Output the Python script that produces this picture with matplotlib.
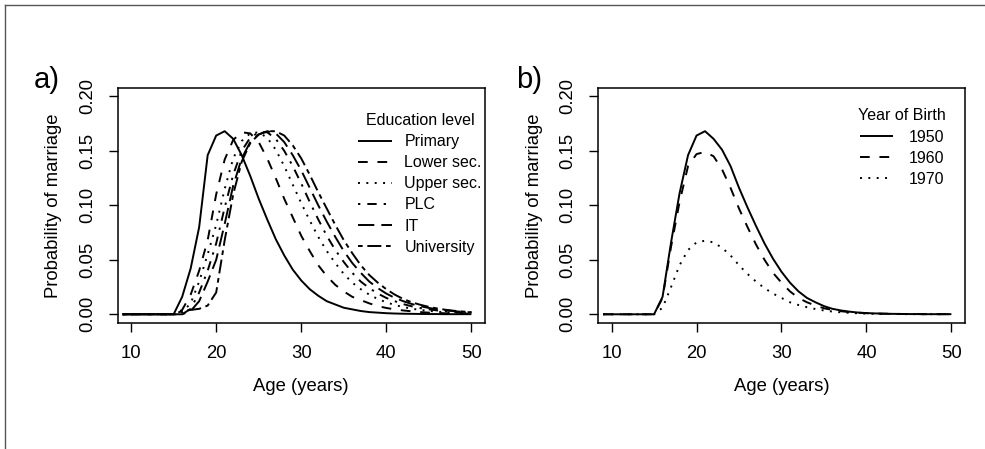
import matplotlib
matplotlib.use('Agg')
import matplotlib.pyplot as plt
from matplotlib.lines import Line2D

# Datos
ages = list(range(9, 51))

primary = [0, 0, 0, 0, 0, 0, 0,
           0.016, 0.042, 0.080, 0.146, 0.164, 0.168, 0.161, 0.146, 0.127, 0.106, 0.087, 0.069, 0.054,
           0.041, 0.031, 0.023, 0.017, 0.012, 0.009, 0.006, 0.0045, 0.003, 0.002, 0.0015, 0.001,
           0.0007, 0.0005, 0.0004, 0.0003, 0.0002, 0.0002, 0.0001, 0.0001, 0.0001, 0.0001]
lower_sec = [0, 0, 0, 0, 0, 0, 0,
             0.004, 0.018, 0.040, 0.068, 0.110, 0.142, 0.160, 0.167, 0.166, 0.158, 0.143, 0.125, 0.106,
             0.089, 0.072, 0.058, 0.045, 0.035, 0.027, 0.021, 0.016, 0.013, 0.010, 0.0075, 0.0058,
             0.0045, 0.0035, 0.0027, 0.002, 0.0015, 0.0012, 0.0009, 0.0007, 0.0005, 0.0004]
upper_sec = [0, 0, 0, 0, 0, 0, 0,
             0.002, 0.010, 0.030, 0.055, 0.082, 0.115, 0.143, 0.159, 0.166, 0.167, 0.162, 0.151, 0.136,
             0.119, 0.102, 0.086, 0.071, 0.058, 0.047, 0.037, 0.029, 0.023, 0.018, 0.014, 0.011,
             0.0085, 0.0066, 0.0051, 0.004, 0.0031, 0.0024, 0.0019, 0.0015, 0.0012, 0.001]
plc = [0, 0, 0, 0, 0, 0, 0, 0,
       0.005, 0.020, 0.040, 0.065, 0.098, 0.128, 0.150, 0.162, 0.167, 0.167, 0.161, 0.150,
       0.136, 0.120, 0.103, 0.087, 0.072, 0.059, 0.048, 0.038, 0.030, 0.024, 0.019, 0.015,
       0.012, 0.0093, 0.0073, 0.0057, 0.0045, 0.0035, 0.0028, 0.0022, 0.0017, 0.0014]
it = [0, 0, 0, 0, 0, 0, 0, 0,
      0.003, 0.012, 0.030, 0.050, 0.083, 0.118, 0.143, 0.158, 0.165, 0.168, 0.166, 0.158,
      0.146, 0.132, 0.116, 0.100, 0.085, 0.071, 0.058, 0.047, 0.038, 0.030, 0.024, 0.019,
      0.015, 0.012, 0.0094, 0.0074, 0.0058, 0.0046, 0.0036, 0.0028, 0.0022, 0.0018]
university = [0, 0, 0, 0, 0, 0, 0,
              0.003, 0.004, 0.005, 0.008, 0.020, 0.068, 0.110, 0.140, 0.157, 0.165, 0.168, 0.168, 0.164,
              0.155, 0.143, 0.128, 0.112, 0.097, 0.082, 0.068, 0.056, 0.045, 0.036, 0.029, 0.023,
              0.018, 0.014, 0.011, 0.0087, 0.0068, 0.0053, 0.0041, 0.0032, 0.0025, 0.002]

yob_1950 = [0, 0, 0, 0, 0, 0, 0,
            0.016, 0.066, 0.111, 0.146, 0.164, 0.168, 0.161, 0.151, 0.136, 0.116, 0.098, 0.081, 0.065,
            0.051, 0.039, 0.029, 0.021, 0.015, 0.011, 0.0075, 0.005, 0.0035, 0.0024, 0.0016, 0.0011,
            0.0008, 0.0006, 0.0004, 0.0003, 0.0002, 0.0002, 0.0001, 0.0001, 0.0001, 0.0001]
yob_1960 = [0, 0, 0, 0, 0, 0, 0,
            0.015, 0.062, 0.103, 0.136, 0.147, 0.149, 0.145, 0.133, 0.116, 0.097, 0.080, 0.064, 0.050,
            0.038, 0.029, 0.021, 0.015, 0.011, 0.008, 0.0055, 0.004, 0.0028, 0.002, 0.0014, 0.001,
            0.0007, 0.0005, 0.0004, 0.0003, 0.0002, 0.0002, 0.0001, 0.0001, 0.0001, 0.0001]
yob_1970 = [0, 0, 0, 0, 0, 0, 0,
            0.006, 0.025, 0.045, 0.059, 0.066, 0.0675, 0.066, 0.061, 0.054, 0.045, 0.037, 0.030, 0.024,
            0.019, 0.015, 0.011, 0.0085, 0.0065, 0.0048, 0.0035, 0.0025, 0.0018, 0.0013, 0.0009, 0.0006,
            0.0004, 0.0003, 0.0002, 0.0002, 0.0001, 0.0001, 0.0001, 0.0001, 0.0001, 0.0001]

edu_labels = ['Primary', 'Lower sec.', 'Upper sec.', 'PLC', 'IT', 'University']
yob_labels = ['1950', '1960', '1970']
x_ticks = [10, 20, 30, 40, 50]
y_ticks = [0.00, 0.05, 0.10, 0.15, 0.20]
y_ticklabels = ['0.00', '0.05', '0.10', '0.15', '0.20']

# estilos tipo R: lty 1..6
lty = [(0, ()), (0, (5, 5)), (0, (1, 3.3)), (0, (1.2, 3.6, 4.8, 3.6)), (0, (8.4, 3.6)), (0, (2.4, 2.4, 7.2, 2.4))]

plt.rcParams['font.family'] = ['Liberation Sans', 'DejaVu Sans']
plt.rcParams['font.size'] = 13.3

W, H = 985, 449
fig = plt.figure(figsize=(W / 100, H / 100), dpi=100)
ax_a = fig.add_axes([117.5 / W, 126 / H, 367.5 / W, 235.4 / H])
ax_b = fig.add_axes([598 / W, 126 / H, 367 / W, 235.4 / H])

for serie, lab, ls in zip([primary, lower_sec, upper_sec, plc, it, university], edu_labels, lty):
    ax_a.plot(ages, serie, color='black', linewidth=1.4, linestyle=ls, label=lab)

for serie, lab, ls in zip([yob_1950, yob_1960, yob_1970], yob_labels, lty):
    ax_b.plot(ages, serie, color='black', linewidth=1.4, linestyle=ls, label=lab)

for ax in [ax_a, ax_b]:
    ax.set_xlim(8.4, 51.6)
    ax.set_ylim(-0.008, 0.208)
    ax.set_xticks(x_ticks)
    ax.set_xticklabels([str(t) for t in x_ticks])
    ax.set_yticks(y_ticks)
    ax.set_yticklabels(y_ticklabels, rotation=90, va='center')
    ax.tick_params(length=6.5, width=1.0, pad=9)
    for sp in ax.spines.values():
        sp.set_linewidth(1.1)
    ax.set_xlabel('Age (years)', labelpad=12)
    ax.set_ylabel('Probability of marriage', labelpad=12)

leg_a = ax_a.legend(title='Education level', frameon=False, loc='upper right', bbox_to_anchor=(1.0, 0.905),
                    fontsize=11.5, title_fontsize=11.5, handlelength=2.1, handletextpad=0.8,
                    labelspacing=0.38, borderaxespad=0, borderpad=0.2)
leg_b = ax_b.legend(title='Year of Birth', frameon=False, loc='upper right', bbox_to_anchor=(0.956, 0.925),
                    fontsize=11.5, title_fontsize=11.5, handlelength=2.1, handletextpad=0.95,
                    labelspacing=0.38, borderaxespad=0, borderpad=0.2)

fig.text(34 / W, 1 - 88 / H, 'a)', fontsize=21, ha='left', va='baseline')
fig.text(516 / W, 1 - 88 / H, 'b)', fontsize=21, ha='left', va='baseline')

# marco de la figura (arriba e izquierda)
fig.add_artist(Line2D([5 / W, 1], [1 - 5 / H, 1 - 5 / H], transform=fig.transFigure, color='#555555', linewidth=1))
fig.add_artist(Line2D([5 / W, 5 / W], [0, 1 - 5 / H], transform=fig.transFigure, color='#555555', linewidth=1))

fig.savefig('out.png', dpi=100)
